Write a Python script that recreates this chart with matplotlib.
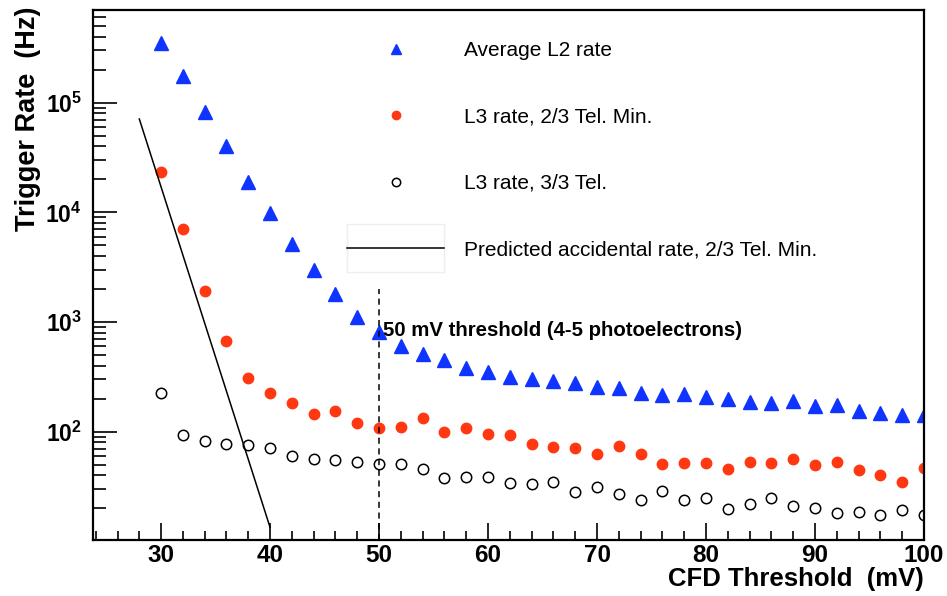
import numpy as np
import matplotlib
matplotlib.use('Agg')
import matplotlib.pyplot as plt
from matplotlib.ticker import FixedLocator, FuncFormatter, LogLocator, NullFormatter
from matplotlib.patches import Rectangle

plt.rcParams['font.family'] = ['Liberation Sans', 'DejaVu Sans']
plt.rcParams['mathtext.fontset'] = 'custom'
plt.rcParams['mathtext.rm'] = 'Liberation Sans'
plt.rcParams['mathtext.bf'] = 'Liberation Sans:bold'

# CFD threshold (mV)
threshold = np.arange(30, 101, 2)

# rates (Hz)
l2_rate = [3.5e5, 1.76e5, 8.2e4, 4.0e4, 1.9e4, 9.8e3, 5.1e3, 2.96e3, 1.8e3, 1.12e3,
           805, 603, 513, 447, 383, 351, 318, 302, 287, 281,
           255, 250, 226, 217, 220, 209, 198, 187, 182, 190,
           173, 174, 156, 148, 143, 142]
l3_23 = [2.35e4, 7.05e3, 1.93e3, 665, 310, 226, 184, 146, 154, 120,
         107, 111, 132, 100, 109, 94.6, 92.7, 76.7, 72, 71.5,
         62.5, 73.5, 62.5, 50.7, 51.8, 51.8, 45.6, 53.2, 51.8, 56.2,
         49.2, 52.9, 44.4, 40.2, 34.7, 46.6]
l3_33 = [226, 93.3, 82, 77, 75, 71.5, 59.5, 56.6, 54.7, 52.8,
         50.7, 50.7, 45.3, 37.5, 38.5, 38.5, 34, 33.7, 34.7, 28.3,
         31.6, 27.3, 23.7, 28.8, 24, 24.9, 19.8, 21.9, 24.7, 21.2,
         20.2, 18.2, 18.4, 17.4, 19.2, 17.4]

# predicted accidental rate, 2/3 Tel. Min.
pred_x = [28, 40]
pred_y = [7.1e4, 13.4]

# 50 mV threshold marker
cut_x = 50
cut_top = 2.0e3

fig = plt.figure(figsize=(9.47, 5.96), dpi=100)
ax = fig.add_axes([0.0982, 0.094, 0.8775, 0.8892])

blue = '#1034ff'
red = '#ff3812'

ax.plot(threshold, l2_rate, linestyle='none', marker='^', ms=9.5, color=blue,
        label='Average L2 rate')
ax.plot(threshold, l3_23, linestyle='none', marker='o', ms=7.5, color=red,
        label='L3 rate, 2/3 Tel. Min.')
ax.plot(threshold, l3_33, linestyle='none', marker='o', ms=7.5, mfc='none', mec='black',
        mew=1.1, label='L3 rate, 3/3 Tel.')
ax.plot(pred_x, pred_y, color='black', lw=1.1,
        label='Predicted accidental rate, 2/3 Tel. Min.')

ax.vlines(cut_x, 10.3, cut_top, colors='black', linestyles=(0, (4, 3)), lw=1.1)
ax.text(50.4, 830, '50 mV threshold (4-5 photoelectrons)', fontsize=14.7,
        fontweight='bold', ha='left', va='center')

ax.set_yscale('log')
ax.set_xlim(23.75, 100)
ax.set_ylim(10.3, 7e5)

ax.xaxis.set_major_locator(FixedLocator(range(30, 101, 10)))
ax.xaxis.set_minor_locator(FixedLocator(range(24, 101, 2)))
ax.yaxis.set_major_locator(LogLocator(base=10, numticks=10))
ax.yaxis.set_minor_locator(LogLocator(base=10, subs=np.arange(2, 10), numticks=20))
ax.yaxis.set_minor_formatter(NullFormatter())
ax.yaxis.set_major_formatter(FuncFormatter(
    lambda v, p: r'$\mathbf{10^{%d}}$' % round(np.log10(v)) if v >= 100 else ''))

ax.tick_params(axis='x', which='major', direction='in', length=12, width=1.2,
               labelsize=17.5, pad=3)
ax.tick_params(axis='x', which='minor', direction='in', length=6.5, width=1.2)
ax.tick_params(axis='y', which='major', direction='in', length=17, width=1.2,
               labelsize=16.5, pad=8)
ax.tick_params(axis='y', which='minor', direction='in', length=9, width=1.2)
for lab in ax.get_xticklabels():
    lab.set_fontweight('bold')
for s in ax.spines.values():
    s.set_linewidth(1.6)

ax.set_xlabel('CFD Threshold  (mV)', fontsize=18.5, fontweight='bold', loc='right',
              labelpad=0)
ax.set_ylabel('Trigger Rate  (Hz)', fontsize=19.5, fontweight='bold', loc='top',
              labelpad=3)
ax.yaxis.label.set_y(1.006)

leg = ax.legend(loc='upper left', bbox_to_anchor=(0.3057, 0.941), frameon=False,
                fontsize=15, handlelength=4.67, handletextpad=0.96, labelspacing=2.27,
                borderpad=0, borderaxespad=0, markerscale=0.8)
ax.add_patch(Rectangle((0.3057, 0.506), 0.1167, 0.09, transform=ax.transAxes,
                       fill=False, ec='#eeeeee', lw=1.0))

fig.savefig('out.png', dpi=100)
